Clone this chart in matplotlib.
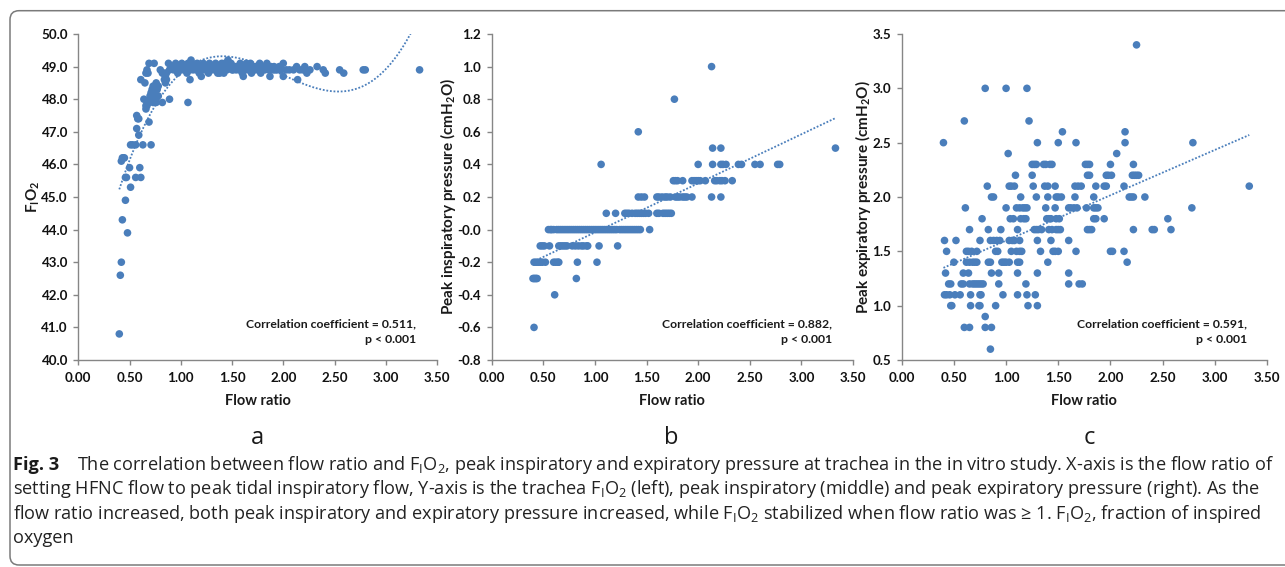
import numpy as np
import matplotlib
matplotlib.use("Agg")
import matplotlib.pyplot as plt
from matplotlib.patches import FancyBboxPatch
from matplotlib.transforms import IdentityTransform

# ---- data ----
# panel a: flow ratio vs trachea FiO2 (x, y)
fio2_pts = [
    (0.40, 40.8), (0.41, 42.6), (0.42, 43.0), (0.43, 44.3), (0.48, 43.9), (0.46, 44.9), (0.51, 45.3),
    (0.42, 46.1), (0.43, 46.2), (0.44, 46.2), (0.45, 46.2), (0.46, 45.6), (0.47, 45.6), (0.50, 45.9),
    (0.60, 45.9), (0.56, 45.6), (0.61, 45.6),
    (0.51, 46.6), (0.53, 46.6), (0.56, 46.6), (0.63, 46.6), (0.71, 46.6),
    (0.57, 47.5), (0.58, 47.4), (0.59, 47.4), (0.57, 47.1), (0.59, 46.9), (0.69, 47.3),
    (0.61, 48.6), (0.65, 48.5), (0.64, 48.0), (0.66, 47.8), (0.66, 47.7), (0.67, 47.8), (0.68, 47.9),
    (0.69, 47.9), (0.70, 48.1), (0.71, 48.2), (0.72, 48.3), (0.72, 48.0), (0.73, 48.4), (0.74, 48.2),
    (0.74, 48.3), (0.75, 48.4), (0.76, 48.5), (0.73, 47.9), (0.75, 48.1), (0.77, 48.3), (0.78, 48.4),
    (0.78, 48.1), (0.76, 47.9), (0.70, 48.0),
    (0.66, 48.8), (0.67, 48.9), (0.68, 48.8), (0.69, 49.1), (0.74, 49.1),
    (0.82, 47.9), (0.89, 48.0), (1.07, 47.9), (1.09, 48.6),
    (0.80, 48.9), (0.82, 48.8), (0.84, 48.6), (0.85, 48.5), (0.86, 48.6), (0.84, 48.8), (0.86, 48.8),
    (0.85, 48.7),
    # main plateau
    (0.88, 49.1), (0.91, 49.0), (0.95, 49.1), (0.98, 49.0), (1.01, 49.1), (1.04, 49.0), (1.07, 49.1),
    (1.10, 49.2), (1.13, 49.0), (1.16, 49.1), (1.19, 49.0), (1.22, 49.1), (1.25, 49.0), (1.28, 49.1),
    (1.31, 49.0), (1.34, 49.1), (1.37, 49.0), (1.40, 49.1), (1.43, 49.1), (1.46, 49.2), (1.49, 49.1),
    (1.52, 49.0), (1.55, 49.0), (1.58, 49.1), (1.61, 49.0), (1.64, 49.1), (1.67, 49.0), (1.70, 49.0),
    (1.73, 49.0), (1.77, 49.1), (1.80, 49.0), (1.84, 49.1), (1.88, 49.0), (1.92, 48.9), (1.96, 49.0),
    (2.00, 49.1),
    (0.89, 48.9), (0.93, 48.9), (0.97, 48.8), (1.00, 48.9), (1.03, 48.9), (1.06, 48.8), (1.09, 48.9),
    (1.12, 48.9), (1.15, 48.9), (1.18, 48.8), (1.21, 48.9), (1.24, 48.9), (1.27, 48.8), (1.30, 48.9),
    (1.33, 48.9), (1.36, 48.8), (1.39, 48.9), (1.42, 48.8), (1.45, 48.9), (1.48, 49.0), (1.51, 48.9),
    (1.54, 48.9), (1.57, 48.9), (1.60, 48.8), (1.63, 48.9), (1.66, 48.9), (1.69, 48.8), (1.72, 48.9),
    (1.75, 48.9), (1.78, 48.8), (1.82, 48.9), (1.86, 48.9), (1.90, 48.9), (1.94, 48.9), (1.98, 48.9),
    (0.96, 49.0), (1.02, 49.0), (1.08, 49.0), (1.11, 49.1), (1.14, 49.0), (1.17, 49.0), (1.20, 48.7),
    (1.23, 49.0), (1.26, 48.9), (1.29, 49.0), (1.32, 49.0), (1.35, 49.0), (1.38, 48.8), (1.41, 49.0),
    (1.44, 49.0), (1.47, 49.1), (1.50, 48.9), (1.53, 49.0), (1.56, 49.0), (1.59, 48.9), (1.61, 48.7),
    (1.62, 49.0), (1.65, 49.0), (1.68, 49.1), (1.71, 48.9), (1.74, 49.0), (1.79, 48.9), (1.83, 49.0),
    (1.87, 48.7), (1.91, 49.0), (2.00, 48.7), (1.97, 48.9),
    # tail
    (2.03, 48.9), (2.06, 48.9), (2.10, 48.9), (2.13, 49.0), (2.14, 48.6), (2.16, 48.9), (2.19, 48.9),
    (2.21, 49.0), (2.23, 48.8), (2.26, 48.9), (2.33, 49.0), (2.39, 48.9), (2.41, 48.8), (2.55, 48.9),
    (2.59, 48.8), (2.78, 48.9), (2.80, 48.9), (3.33, 48.9),
]

# panel b: peak inspiratory pressure, flow ratios grouped by pressure level
pip_levels = [-0.6, -0.4, -0.3, -0.2, -0.1, 0.0, 0.1, 0.2, 0.3, 0.4, 0.5, 0.6, 0.8, 1.0]
pip_flow = [
    [0.41],
    [0.61],
    [0.40, 0.41, 0.42, 0.43, 0.44, 0.82],
    [0.41, 0.43, 0.45, 0.47, 0.49, 0.52, 0.60, 0.62, 0.64, 0.65, 0.83, 1.02],
    [0.47, 0.49, 0.51, 0.56, 0.65, 0.67, 0.69, 0.71, 0.73, 0.78, 0.81, 0.84, 0.87, 0.89, 0.92, 0.93,
     1.04, 1.22],
    [0.55, 0.57, 0.58, 0.60, 0.63, 0.65, 0.67, 0.69, 0.71, 0.73, 0.75, 0.77, 0.79, 0.81, 0.83, 0.85,
     0.87, 0.89, 0.91, 0.93, 0.95, 0.97, 0.99, 1.01, 1.03, 1.05, 1.07, 1.09, 1.11, 1.13, 1.15, 1.17,
     1.19, 1.21, 1.24, 1.26, 1.28, 1.30, 1.32, 1.34, 1.36, 1.38, 1.40, 1.42, 1.44, 1.53],
    [1.11, 1.20, 1.29, 1.31, 1.33, 1.36, 1.39, 1.41, 1.43, 1.45, 1.47, 1.49, 1.52, 1.60, 1.62, 1.66,
     1.68, 1.70, 1.72, 1.74],
    [1.42, 1.45, 1.48, 1.60, 1.62, 1.65, 1.68, 1.70, 1.73, 1.78, 1.80, 1.82, 1.85, 1.87, 1.89, 1.94,
     2.13, 2.22],
    [1.76, 1.78, 1.80, 1.85, 1.94, 1.96, 1.98, 2.00, 2.02, 2.07, 2.16, 2.18, 2.21, 2.23, 2.26, 2.33],
    [1.06, 2.00, 2.14, 2.22, 2.24, 2.27, 2.39, 2.42, 2.55, 2.60, 2.77, 2.79],
    [2.14, 2.22, 3.33],
    [1.42],
    [1.77],
    [2.13],
]

# panel c: peak expiratory pressure, flow ratios grouped by pressure level
pep_levels = [3.4, 3.0, 2.7, 2.6, 2.5, 2.4, 2.3, 2.2, 2.1, 2.0, 1.9, 1.8, 1.7, 1.6, 1.5, 1.4, 1.3,
              1.2, 1.1, 1.0, 0.9, 0.8, 0.6]
pep_flow = [
    [2.25],
    [0.80, 1.00, 1.20],
    [0.60, 1.22],
    [1.54, 2.14],
    [0.40, 1.30, 1.50, 1.67, 2.14, 2.79],
    [1.02, 2.06],
    [1.25, 1.27, 1.29, 1.36, 1.38, 1.42, 1.44, 1.76, 1.78, 1.80, 2.00, 2.22],
    [1.09, 1.25, 1.78, 1.80, 1.96, 1.98, 2.01, 2.21, 2.23, 2.25, 2.27],
    [0.82, 1.03, 1.05, 1.08, 1.26, 1.37, 1.40, 1.47, 1.66, 1.69, 1.72, 1.86, 1.94, 1.96, 2.13, 3.33],
    [0.86, 0.88, 1.14, 1.29, 1.40, 1.48, 1.50, 1.53, 1.66, 1.84, 2.18, 2.20, 2.22, 2.33],
    [0.61, 1.00, 1.10, 1.13, 1.16, 1.18, 1.20, 1.38, 1.47, 1.60, 1.62, 1.65, 1.68, 1.77, 1.84, 1.86,
     1.88, 2.78],
    [0.77, 1.04, 1.07, 1.14, 1.17, 1.19, 1.39, 1.41, 1.43, 1.48, 1.51, 1.84, 1.86, 1.94, 2.55],
    [0.65, 0.83, 0.95, 1.11, 1.27, 1.29, 1.31, 1.34, 1.41, 1.44, 1.48, 1.50, 1.52, 1.78, 1.80, 1.82,
     2.22, 2.40, 2.42, 2.58],
    [0.41, 0.52, 0.75, 0.85, 0.88, 0.91, 0.94, 1.03, 1.06, 1.08, 1.13, 1.30, 1.43, 1.60],
    [0.43, 0.62, 0.64, 0.67, 0.72, 0.90, 0.92, 1.05, 1.10, 1.13, 1.15, 1.33, 1.45, 1.47, 1.50, 1.67,
     2.00, 2.02, 2.13],
    [0.50, 0.62, 0.65, 0.68, 0.70, 0.72, 0.83, 0.85, 0.96, 0.98, 1.00, 1.03, 1.11, 1.13, 1.40, 2.16],
    [0.42, 0.59, 0.64, 0.86, 0.93, 1.11, 1.30, 1.60],
    [0.45, 0.47, 0.57, 0.59, 0.65, 0.68, 0.70, 0.72, 0.74, 0.76, 0.78, 0.93, 1.19, 1.60, 1.70, 1.73],
    [0.41, 0.43, 0.46, 0.51, 0.56, 0.66, 0.75, 0.76, 0.97, 1.11, 1.20, 1.28],
    [0.47, 0.48, 0.66, 0.74, 0.75, 0.90, 1.21, 1.30],
    [0.80],
    [0.60, 0.65, 0.80, 0.86],
    [0.85],
]

x_ticks = [0.0, 0.5, 1.0, 1.5, 2.0, 2.5, 3.0, 3.5]
corr_texts = ["Correlation coefficient = 0.511,\np < 0.001",
              "Correlation coefficient = 0.882,\np < 0.001",
              "Correlation coefficient = 0.591,\np < 0.001"]
panel_letters = ["a", "b", "c"]

caption_head = "Fig. 3"
caption_lines = [
    r"The correlation between flow ratio and $\mathregular{F_IO_2}$, peak inspiratory and expiratory "
    r"pressure at trachea in the in vitro study. X-axis is the flow ratio of",
    r"setting HFNC flow to peak tidal inspiratory flow, Y-axis is the trachea $\mathregular{F_IO_2}$ "
    r"(left), peak inspiratory (middle) and peak expiratory pressure (right). As the",
    r"flow ratio increased, both peak inspiratory and expiratory pressure increased, while "
    r"$\mathregular{F_IO_2}$ stabilized when flow ratio was ≥ 1. $\mathregular{F_IO_2}$, fraction of inspired",
    "oxygen",
]

# ---- helpers ----
def unfold(levels, flows):
    xs, ys = [], []
    for lev, fl in zip(levels, flows):
        xs += list(fl)
        ys += [lev] * len(fl)
    return np.array(xs), np.array(ys)

W, H = 1285, 567
BLUE = "#4a7ebb"
AXC = "#868686"
TXT = "#1a1a1a"
CHART_FONT = ["Lato", "DejaVu Sans"]
CAP_FONT = ["Open Sans", "DejaVu Sans"]

plt.rcParams["font.family"] = CHART_FONT
plt.rcParams["axes.unicode_minus"] = False

def fx(px):
    return px / W

def fy(py):
    return 1 - py / H

fig = plt.figure(figsize=(W / 100, H / 100), dpi=100)

# rounded frame around figure + caption
frame = FancyBboxPatch((10, H - 565), 1300, 565 - 10.7,
                       boxstyle="round,pad=0,rounding_size=9",
                       transform=IdentityTransform(), fill=False,
                       edgecolor="#7a7a7a", linewidth=1.1)
fig.patches.append(frame)

fx_a = np.array([p[0] for p in fio2_pts])
fy_a = np.array([p[1] for p in fio2_pts])
bx, by = unfold(pip_levels, pip_flow)
cx, cy = unfold(pep_levels, pep_flow)

panels = [
    dict(x=fx_a, y=fy_a, deg=3, box=(78.3, 437.0), ylim=(40, 50), yt=np.arange(40, 50.01, 1.0),
         ylab=r"$\mathregular{F_IO_2}$", ylab_x=33, corr_x=416),
    dict(x=bx, y=by, deg=1, box=(491.7, 853.0), ylim=(-0.8, 1.2), yt=np.arange(-0.8, 1.21, 0.2),
         ylab=r"Peak inspiratory pressure (cmH$\mathregular{_2}$O)", ylab_x=448, corr_x=831.7),
    dict(x=cx, y=cy, deg=1, box=(901.7, 1267.0), ylim=(0.5, 3.5), yt=np.arange(0.5, 3.51, 0.5),
         ylab=r"Peak expiratory pressure (cmH$\mathregular{_2}$O)", ylab_x=863, corr_x=1246.7),
]

top, bot = 34, 360
for i, p in enumerate(panels):
    l, r = p["box"]
    ax = fig.add_axes([fx(l), fy(bot), (r - l) / W, (bot - top) / H])
    ax.scatter(p["x"], p["y"], s=30, color=BLUE, edgecolors="none", zorder=3, clip_on=False)

    # Excel-style trendline (polynomial / linear fit of the points)
    coef = np.polyfit(p["x"], p["y"], p["deg"])
    xx = np.linspace(p["x"].min(), p["x"].max(), 300)
    ax.plot(xx, np.polyval(coef, xx), color=BLUE, lw=1.3, ls=(0, (1, 1)), zorder=2)

    ax.set_xlim(0, 3.5)
    ax.set_ylim(*p["ylim"])
    ax.set_xticks(x_ticks)
    ax.set_xticklabels([f"{v:.2f}" for v in x_ticks])
    ax.set_yticks(p["yt"])
    ax.set_yticklabels([f"{v:.1f}" for v in p["yt"]])
    for s in ["top", "right"]:
        ax.spines[s].set_visible(False)
    for s in ["left", "bottom"]:
        ax.spines[s].set_color(AXC)
        ax.spines[s].set_linewidth(1.0)
    ax.tick_params(direction="out", length=3.5, width=1.0, color=AXC,
                   labelsize=9.6, labelcolor="#111111")
    ax.tick_params(axis="x", pad=5)
    ax.tick_params(axis="y", pad=4)
    for t in ax.get_xticklabels() + ax.get_yticklabels():
        t.set_fontweight("bold")

    fig.text(fx((l + r) / 2), fy(401), "Flow ratio", ha="center", va="center",
             fontsize=10.5, fontweight="bold", color=TXT)
    fig.text(fx(p["ylab_x"]), fy(197), p["ylab"], ha="center", va="center", rotation=90,
             fontsize=11, fontweight="bold", color=TXT)
    fig.text(fx(p["corr_x"]), fy(331.5), corr_texts[i], ha="right", va="center",
             multialignment="right", fontsize=8.8, fontweight="bold", color=TXT,
             linespacing=1.5)

# panel letters
for letter, px in zip(panel_letters, [257, 671, 1089]):
    fig.text(fx(px), fy(438), letter, ha="center", va="center", fontsize=17,
             family=CAP_FONT, color=TXT)

# caption: size the font so the lines fit the frame width
renderer = fig.canvas.get_renderer()
sizes = []
for line, span in [(caption_lines[0], 1278 - 77), (caption_lines[1], 1275 - 13)]:
    probe = fig.text(0, 0, line, fontsize=10, family=CAP_FONT)
    w = probe.get_window_extent(renderer).width
    probe.remove()
    sizes.append(10 * span / w)
cap_size = min(sizes)

fig.text(fx(13), fy(470), caption_head, fontsize=cap_size, fontweight="bold",
         family=CAP_FONT, color=TXT, va="baseline")
fig.text(fx(77), fy(470), caption_lines[0], fontsize=cap_size, family=CAP_FONT,
         color="#222222", va="baseline")
for k, line in enumerate(caption_lines[1:]):
    fig.text(fx(13), fy(494.3 + 24.3 * k), line, fontsize=cap_size, family=CAP_FONT,
             color="#222222", va="baseline")

fig.savefig("out.png", dpi=100)
